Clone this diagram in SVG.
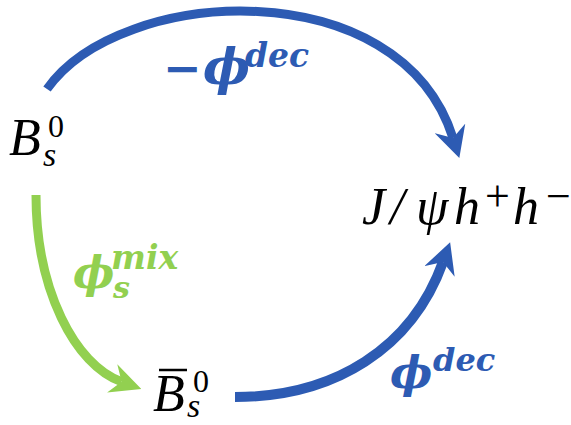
<svg xmlns="http://www.w3.org/2000/svg" width="571" height="425" viewBox="0 0 571 425">
<style>
.blk{font-family:"Liberation Serif","DejaVu Serif",serif;font-style:italic;fill:#000}
.up{font-style:normal}
.lbl{font-family:"DejaVu Serif","Liberation Serif",serif;font-style:italic;font-weight:bold}
.blue{fill:#2D5BB3}
.green{fill:#92D050}
.conn{fill:none;stroke-linecap:butt}
</style>
<defs>
<marker id="ahBlue" markerUnits="userSpaceOnUse" viewBox="0 -16 31 32" markerWidth="31" markerHeight="32" refX="10" refY="0" orient="auto">
<path d="M0,-16 L31,0 L0,16 L10,0 Z" fill="#2D5BB3"/>
</marker>
<marker id="ahGreen" markerUnits="userSpaceOnUse" viewBox="0 -16 31 32" markerWidth="31" markerHeight="32" refX="10" refY="0" orient="auto">
<path d="M0,-15 L31,0 L0,15 L10,0 Z" fill="#92D050"/>
</marker>
</defs>
<g id="connectors">
<path id="e-top" class="conn" d="M47,89 C120,-15 400,-30 453,138" stroke="#2D5BB3" stroke-width="9" marker-end="url(#ahBlue)"/>
<path id="e-mix" class="conn" d="M36,195 C36,290 75,365 121.6,381.8" stroke="#92D050" stroke-width="9" marker-end="url(#ahGreen)"/>
<path id="e-bot" class="conn" d="M235,397 C335,397 412,348 443,262" stroke="#2D5BB3" stroke-width="10" marker-end="url(#ahBlue)"/>
</g>
<g id="node-Bs">
<text class="blk" font-size="52" x="9" y="155">B</text>
<text class="blk up" font-size="32" x="48" y="137">0</text>
<text class="blk" font-size="34" x="43" y="166">s</text>
</g>
<g id="node-Bsbar">
<text class="blk" font-size="52" x="153" y="411">B</text>
<line x1="159" y1="370" x2="187" y2="370" stroke="#000" stroke-width="2.5"/>
<text class="blk up" font-size="32" x="193" y="392">0</text>
<text class="blk" font-size="34" x="187" y="417">s</text>
</g>
<g id="node-final">
<text class="blk" font-size="52" y="224"><tspan x="362">J</tspan><tspan x="390">/</tspan><tspan x="416">ψ</tspan><tspan x="454">h</tspan><tspan class="up" x="485" y="211" font-size="44">+</tspan><tspan x="513" y="224">h</tspan><tspan class="up" x="546" y="211" font-size="44">−</tspan></text>
</g>
<g id="label-top">
<text class="lbl blue" font-size="46" y="84"><tspan x="163">−</tspan><tspan x="203" font-size="50">ϕ</tspan><tspan x="245" y="67" font-size="33">dec</tspan></text>
</g>
<g id="label-mix">
<text class="lbl green" font-size="44" y="288"><tspan x="73">ϕ</tspan><tspan x="111" y="269" font-size="33">mix</tspan><tspan x="113" y="298" font-size="30">s</tspan></text>
</g>
<g id="label-bot">
<text class="lbl blue" font-size="45" y="388"><tspan x="390">ϕ</tspan><tspan x="433" y="371" font-size="32">dec</tspan></text>
</g>
</svg>
